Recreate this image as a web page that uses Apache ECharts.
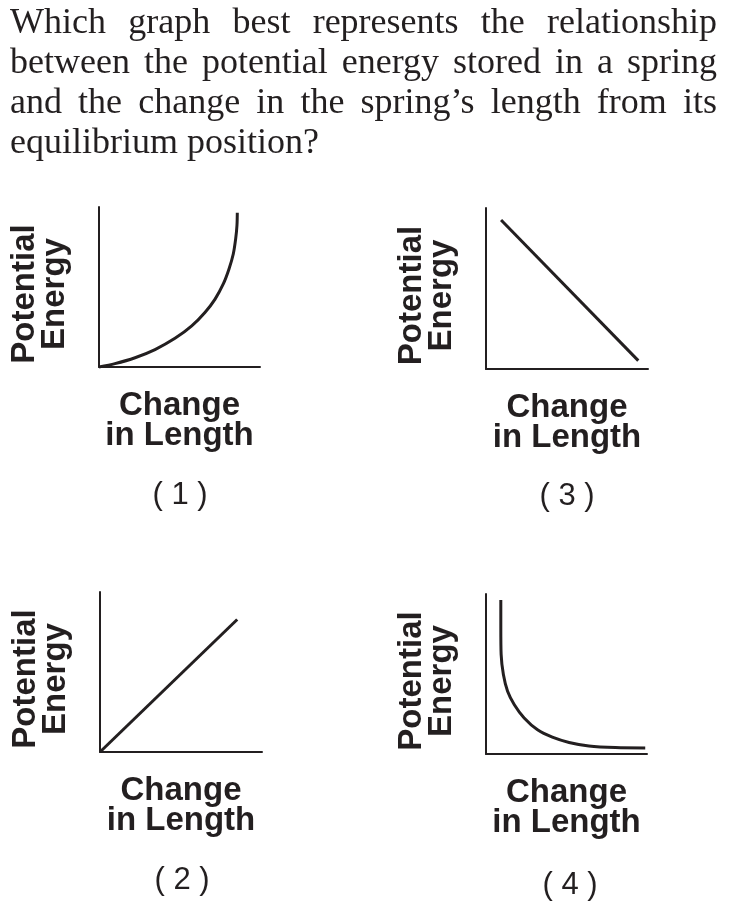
<!DOCTYPE html>
<html>
<head>
<meta charset="utf-8">
<script src="https://cdn.jsdelivr.net/npm/echarts@6/dist/echarts.min.js"></script>
<style>
html,body{margin:0;padding:0;background:#fff;}
#chart{width:729px;height:916px;}
</style>
</head>
<body>
<div id="chart"></div>
<script>
// ---- text content ----
const questionLines = [
  'Which graph best represents the relationship',
  'between the potential energy stored in a spring',
  'and the change in the spring\u2019s length from its',
  'equilibrium position?'
];
const xAxisName = 'Change\nin Length';
const yAxisName = 'Potential\nEnergy';
const panelLabels = ['( 1 )', '( 2 )', '( 3 )', '( 4 )'];

// ---- series values (0-100 scale on both axes) ----
const graph1X = [0, 9.9, 22.4, 34.8, 47.2, 57.6, 65.8, 72.0, 77.2, 80.7, 83.4, 84.9, 85.7, 85.9];
const graph1Y = [0, 2.1, 5.8, 10.9, 17.9, 25.7, 34.1, 42.3, 51.9, 61.1, 70.6, 80.2, 88.6, 96.4];

const graph2X = [0, 84.7];
const graph2Y = [0, 82.8];

const graph3X = [9.3, 94.0];
const graph3Y = [92.5, 5.2];

const graph4X = [9.2, 9.2, 9.4, 10.8, 13.4, 17.6, 23.7, 32.0, 41.2, 51.6, 63.9, 80.4, 98.9];
const graph4Y = [96.2, 79.1, 62.3, 49.7, 39.2, 30.8, 22.5, 15.1, 10.5, 7.2, 5.0, 4.0, 3.8];

// ---- layout / style ----
const INK = '#231f20';
const panels = [
  { x: graph1X, y: graph1Y, smooth: 0.3, grid: { left: 99, top: 207, width: 161, height: 160 }, label: panelLabels[0], lx: 180, ly: 495 },
  { x: graph2X, y: graph2Y, smooth: false, grid: { left: 100, top: 592, width: 162, height: 160 }, label: panelLabels[1], lx: 182, ly: 880 },
  { x: graph3X, y: graph3Y, smooth: false, grid: { left: 486, top: 208, width: 162, height: 161 }, label: panelLabels[2], lx: 567, ly: 496 },
  { x: graph4X, y: graph4Y, smooth: 0.3, grid: { left: 486, top: 594, width: 161, height: 160 }, label: panelLabels[3], lx: 570, ly: 885 }
];

const nameStyle = {
  fontFamily: '"Liberation Sans", Arial, sans-serif',
  fontWeight: 'bold',
  fontSize: 33,
  lineHeight: 30,
  color: INK
};

const grids = [], xAxes = [], yAxes = [], series = [], graphics = [];
panels.forEach((p, i) => {
  grids.push(Object.assign({ containLabel: false, outerBoundsMode: 'none' }, p.grid));
  xAxes.push({
    type: 'value', gridIndex: i, min: 0, max: 100,
    axisLine: { show: true, lineStyle: { color: INK, width: 2 } },
    axisTick: { show: false }, axisLabel: { show: false }, splitLine: { show: false },
    name: xAxisName, nameLocation: 'middle', nameGap: 24,
    nameTextStyle: nameStyle
  });
  yAxes.push({
    type: 'value', gridIndex: i, min: 0, max: 100,
    axisLine: { show: true, lineStyle: { color: INK, width: 2 } },
    axisTick: { show: false }, axisLabel: { show: false }, splitLine: { show: false },
    name: yAxisName, nameLocation: 'middle', nameGap: 29, nameRotate: 90,
    nameTextStyle: Object.assign({}, nameStyle, { padding: [0, 14, 0, 0] })
  });
  series.push({
    type: 'line', xAxisIndex: i, yAxisIndex: i,
    data: p.x.map((v, k) => [v, p.y[k]]),
    smooth: p.smooth, showSymbol: false, symbol: 'none', silent: true,
    lineStyle: { color: INK, width: 3, cap: 'butt' },
    clip: false, animation: false
  });
  graphics.push({
    type: 'text', x: p.lx, y: p.ly,
    style: {
      text: p.label, font: '31px "Liberation Sans", Arial, sans-serif',
      fill: INK, align: 'center', verticalAlign: 'middle'
    }
  });
});

// ---- question text: justified lines built from measured words ----
const QSIZE = 36;
const qFont = QSIZE + 'px "Liberation Serif", "Times New Roman", serif';
const ctx = document.createElement('canvas').getContext('2d');
ctx.font = qFont;
const sx = 1;
const baselines = [36, 76, 116, 156];
const justify = [true, true, true, false];
const qLeft = 10, qRight = 717;
questionLines.forEach((line, li) => {
  const words = line.split(' ');
  const widths = words.map(w => ctx.measureText(w).width * sx);
  const total = widths.reduce((a, b) => a + b, 0);
  const gap = justify[li] ? (qRight - qLeft - total) / (words.length - 1)
                          : ctx.measureText(' ').width * sx;
  let x = qLeft;
  words.forEach((w, wi) => {
    graphics.push({
      type: 'text', x: x, y: baselines[li] - 12, scaleX: sx,
      style: { text: w, font: qFont, fill: INK, align: 'left', verticalAlign: 'middle' }
    });
    x += widths[wi] + gap;
  });
});

const chart = echarts.init(document.getElementById('chart'), null, { renderer: 'canvas' });
chart.setOption({
  animation: false,
  backgroundColor: '#ffffff',
  grid: grids,
  xAxis: xAxes,
  yAxis: yAxes,
  series: series,
  graphic: graphics
});
</script>
</body>
</html>
